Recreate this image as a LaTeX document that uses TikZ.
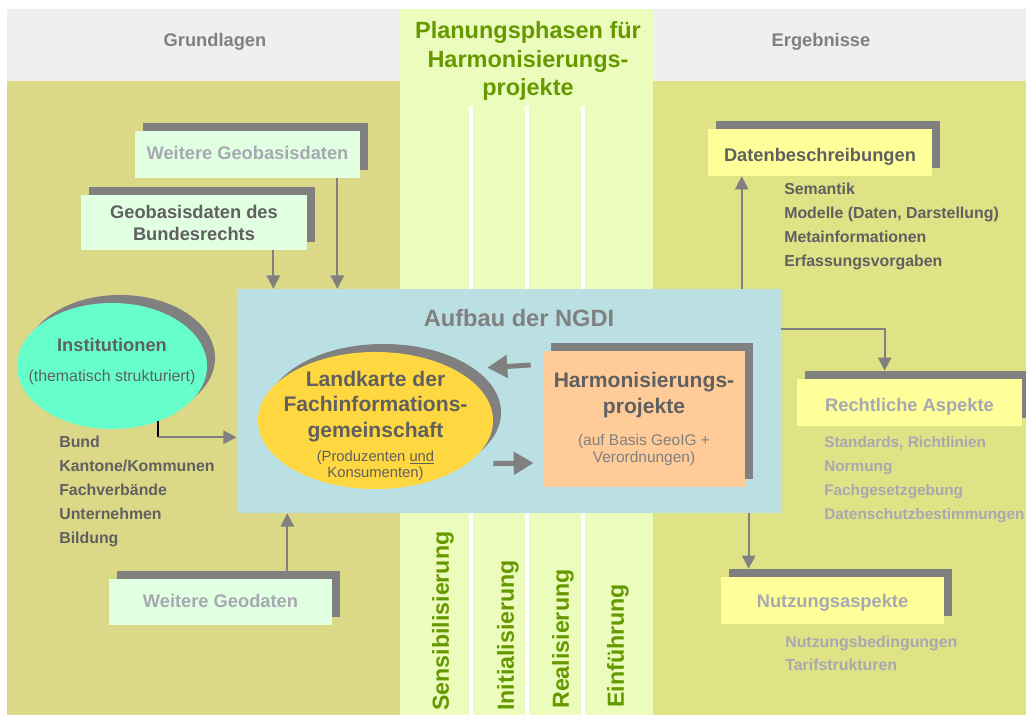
\documentclass[tikz,border=0pt]{standalone}
\usepackage{fontspec}
\setmainfont{Liberation Sans}
\usetikzlibrary{arrows.meta,shapes.geometric,shadows}

\begin{document}
\begin{tikzpicture}[x=0.025cm, y=-0.025cm,
    every node/.style={inner sep=0pt},
    hdrlabel/.style={font=\fontsize{13}{16}\selectfont\bfseries, text=hdrText},
    phasetitle/.style={font=\fontsize{16.7}{20.3}\selectfont\bfseries, text=phaseGreen, align=center},
    phasetext/.style={font=\fontsize{16.5}{20}\selectfont\bfseries, text=phaseGreen,
      text height=12pt, text depth=3.5pt, rotate=90, anchor=west},
    shadowed/.style={drop shadow={shadow xshift=0.2cm, shadow yshift=0.2cm,
      fill=shadowGray, opacity=1}},
    databox/.style={rectangle, shadowed, align=center,
      font=\fontsize{13}{15.6}\selectfont\bfseries},
    oneline/.style={text height=10.5pt, text depth=2.8pt},
    bubbletext/.style={align=center, text=darkText},
    listtext/.style={anchor=west, font=\fontsize{11.3}{13}\selectfont\bfseries,
      text height=8pt, text depth=2.5pt},
    thinarrow/.style={draw=shadowGray, line width=0.05cm,
      -{Triangle[length=0.33cm, width=0.33cm]}},
    fatarrow/.style={draw=shadowGray, line width=0.125cm,
      -{Triangle[length=0.5cm, width=0.55cm]}}]
    % colours picked from the reference
    \definecolor{hdrGray}{RGB}{239,239,239}
    \definecolor{hdrText}{RGB}{128,128,128}
    \definecolor{leftBody}{RGB}{219,217,136}
    \definecolor{rightBody}{RGB}{224,226,134}
    \definecolor{phaseStrip}{RGB}{236,252,188}
    \definecolor{phaseGreen}{RGB}{102,153,0}
    \definecolor{ngdiBlue}{RGB}{187,224,227}
    \definecolor{shadowGray}{RGB}{128,128,128}
    \definecolor{darkText}{RGB}{96,96,96}
    \definecolor{paleText}{RGB}{168,168,178}
    \definecolor{mintBox}{RGB}{225,255,225}
    \definecolor{lemonBox}{RGB}{255,255,153}
    \definecolor{aquaFill}{RGB}{102,255,204}
    \definecolor{goldFill}{RGB}{255,215,64}
    \definecolor{peachFill}{RGB}{255,204,153}

    % Geometry: one unit = one pixel of the 1026 x 715 original, y runs downwards
    \useasboundingbox (0,0) rectangle (1026,715);

    % Background bands
    \fill[hdrGray]    (7,9)   rectangle (400,81);
    \fill[hdrGray]    (653,9) rectangle (1026,81);
    \fill[leftBody]   (7,81)  rectangle (400,715);
    \fill[rightBody]  (653,81) rectangle (1026,715);
    \fill[phaseStrip] (400,9) rectangle (653,715);
    \foreach \lx in {471,527,583}
      \draw[white, line width=0.09cm] (\lx,106) -- (\lx,715);

    % Column headings
    \node[hdrlabel]   (grundlagen) at (215,42) {Grundlagen};
    \node[hdrlabel]   (ergebnisse) at (821,42) {Ergebnisse};
    \node[phasetitle] (phasen)     at (528,61) {Planungsphasen für\\Harmonisierungs-\\projekte};

    % Phases (rotated, reading upwards)
    \foreach \phase/\cx/\cy [count=\i] in {Sensibilisierung/443/711, Initialisierung/508/711,
        Realisierung/563/709, Einführung/618/708}
      \node[phasetext] (phase\i) at (\cx,\cy) {\phase};

    % NGDI block
    \node[rectangle, fill=ngdiBlue, minimum width=13.6cm, minimum height=5.6cm] (ngdi) at (509,401) {};
    \node[font=\fontsize{16.8}{20}\selectfont\bfseries, text=hdrText] (ngditle) at (519,318) {Aufbau der NGDI};

    \node[ellipse, fill=goldFill, shadowed, minimum width=5.875cm, minimum height=3.425cm]
      (landkarte) at (375.5,420.5) {};
    \node[bubbletext, font=\fontsize{15}{18.1}\selectfont\bfseries] (landkartetext) at (375.5,426)
      {Landkarte der\\Fachinformations-\\gemeinschaft\\[-1.2pt]
       {\fontsize{10.5}{12}\selectfont\mdseries (Produzenten \underline{und}}\\[-6.1pt]
       {\fontsize{10.5}{12}\selectfont\mdseries Konsumenten)}};
    \node[rectangle, fill=peachFill, shadowed, minimum width=5.05cm, minimum height=3.4cm,
      bubbletext, font=\fontsize{15}{18.5}\selectfont\bfseries] (harmon) at (644,419)
      {Harmonisierungs-\\projekte\\[4pt]
       {\fontsize{11}{12}\selectfont\mdseries\color{hdrText}(auf Basis GeoIG +}\\[-6.5pt]
       {\fontsize{11}{12}\selectfont\mdseries\color{hdrText}Verordnungen)}};

    \draw[fatarrow] ([xshift=-0.3cm,yshift=1.35cm]harmon.west) -- ([xshift=-0.15cm,yshift=1.32cm]landkarte.east);
    \draw[fatarrow] ([yshift=-1.075cm]landkarte.east) -- ([xshift=-0.225cm,yshift=-1.1cm]harmon.west);

    % Grundlagen (left)
    \node[databox, oneline, fill=mintBox, text=paleText, minimum width=5.625cm, minimum height=1.175cm]
      (geoweit) at (247.5,154.5) {Weitere Geobasisdaten};
    \node[databox, fill=mintBox, text=darkText, minimum width=5.65cm, minimum height=1.375cm]
      (geobund) at (194,222.5) {Geobasisdaten des\\Bundesrechts};
    \node[databox, oneline, fill=mintBox, text=paleText, minimum width=5.575cm, minimum height=1.15cm]
      (geodat) at (220.5,602) {Weitere Geodaten};
    \node[ellipse, fill=aquaFill, shadowed, minimum width=4.75cm, minimum height=3.15cm]
      (institutionen) at (112,366) {};
    \node[bubbletext, font=\fontsize{13}{16}\selectfont\bfseries] (institutionentext) at (112,361.5)
      {Institutionen\\[6pt]
       {\fontsize{11.3}{13}\selectfont\mdseries (thematisch strukturiert)}};

    \foreach \txt [count=\i] in {Bund, {Kantone/Kommunen}, Fachverbände, Unternehmen, Bildung}
      \node[listtext, text=darkText] (instlist\i) at (59,420+24*\i) {\txt};

    \draw[thinarrow] ([xshift=-0.575cm]geoweit.south east) -- ([xshift=-0.575cm]geoweit.south east |- ngdi.north);
    \draw[thinarrow] ([xshift=-0.85cm]geobund.south east) -- ([xshift=-0.85cm]geobund.south east |- ngdi.north);
    \draw[thinarrow] ([xshift=-1.125cm,yshift=0.2cm]geodat.north east) -- ([xshift=-1.125cm]geodat.north east |- ngdi.south);
    \draw[black, line width=0.05cm] (institutionen.-50) -- ++(0,16) coordinate (instknee);
    \draw[thinarrow] (instknee) -- (instknee -| ngdi.west);

    % Ergebnisse (right)
    \node[databox, oneline, text height=15pt, fill=lemonBox, text=darkText, minimum width=5.6cm, minimum height=1.175cm]
      (datenb) at (820,152.5) {Datenbeschreibungen};
    \node[databox, oneline, text height=15pt, fill=lemonBox, text=paleText, minimum width=5.625cm, minimum height=1.175cm]
      (recht) at (909.5,402.5) {Rechtliche Aspekte};
    \node[databox, oneline, text height=12.5pt, fill=lemonBox, text=paleText, minimum width=5.575cm, minimum height=1.175cm]
      (nutzung) at (832.5,600.5) {Nutzungsaspekte};

    \foreach \txt [count=\i] in {Semantik, {Modelle (Daten, Darstellung)}, Metainformationen, Erfassungsvorgaben}
      \node[listtext, text=darkText] (datenlist\i) at (784,167+24*\i) {\txt};
    \foreach \txt [count=\i] in {{Standards, Richtlinien}, Normung, Fachgesetzgebung, Datenschutzbestimmungen}
      \node[listtext, font=\fontsize{10.9}{13}\selectfont\bfseries, text=paleText] (rechtlist\i) at (824,420+24*\i) {\txt};
    \foreach \txt [count=\i] in {Nutzungsbedingungen, Tarifstrukturen}
      \node[listtext, text=paleText] (nutzlist\i) at (785,621+23*\i) {\txt};

    \draw[thinarrow] ([xshift=0.85cm]datenb.south west |- ngdi.north) -- ([xshift=0.85cm]datenb.south west);
    \draw[thinarrow] ([yshift=1.8cm]ngdi.east) -| ([xshift=2.2cm,yshift=0.2cm]recht.north west);
    \draw[thinarrow] ([xshift=0.7cm]nutzung.north west |- ngdi.south) -- ([xshift=0.7cm,yshift=0.2cm]nutzung.north west);
  \end{tikzpicture}
\end{document}
